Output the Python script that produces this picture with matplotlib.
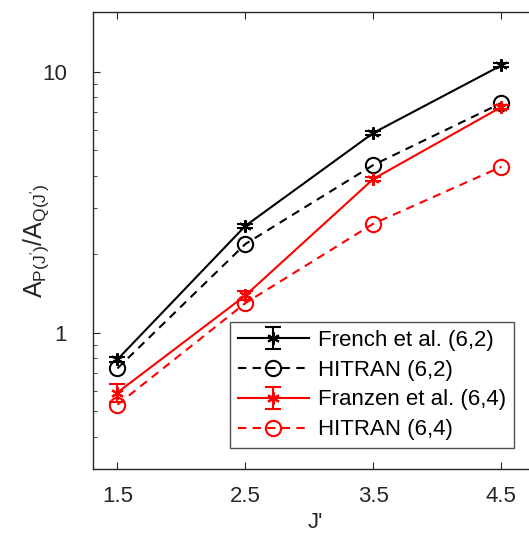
import matplotlib
matplotlib.use("Agg")
import matplotlib.pyplot as plt
from matplotlib.ticker import LogLocator, NullFormatter

plt.rcParams['font.family'] = ['Liberation Sans', 'DejaVu Sans']
plt.rcParams['mathtext.default'] = 'regular'

# Данные
j_vals = [1.5, 2.5, 3.5, 4.5]
french_62 = [0.79, 2.57, 5.84, 10.6]
french_62_err = [0.02, 0.05, 0.12, 0.2]
hitran_62 = [0.73, 2.19, 4.40, 7.6]
franzen_64 = [0.59, 1.39, 3.89, 7.34]
franzen_64_err = [0.045, 0.05, 0.08, 0.15]
hitran_64 = [0.53, 1.30, 2.62, 4.33]

fig = plt.figure(figsize=(5.29, 5.38), dpi=100)
ax = fig.add_axes([0.176, 0.128, 0.8396, 0.850])

star = (6, 2, 0)
h1 = ax.errorbar(j_vals, french_62, yerr=french_62_err, color='black', lw=1.5,
                 marker=star, ms=9, mew=1.5, capsize=6, elinewidth=1.5, capthick=1.5,
                 label='French et al. (6,2)')
h2, = ax.plot(j_vals, hitran_62, color='black', lw=1.5, ls=(0, (4, 3)),
              marker='o', ms=11, mfc='none', mew=1.5, label='HITRAN (6,2)')
h3 = ax.errorbar(j_vals, franzen_64, yerr=franzen_64_err, color='red', lw=1.5,
                 marker=star, ms=9, mew=1.5, capsize=6, elinewidth=1.5, capthick=1.5,
                 label='Franzen et al. (6,4)')
h4, = ax.plot(j_vals, hitran_64, color='red', lw=1.5, ls=(0, (4, 3)),
              marker='o', ms=11, mfc='none', mew=1.5, label='HITRAN (6,4)')

ax.set_yscale('log')
ax.set_xlim(1.31, 4.78)
ax.set_ylim(0.3, 17)
ax.set_xticks(j_vals)
ax.set_xticklabels(['1.5', '2.5', '3.5', '4.5'])
ax.set_yticks([1, 10])
ax.set_yticklabels(['1', '10'])
ax.yaxis.set_minor_locator(LogLocator(base=10, subs=range(2, 10)))
ax.yaxis.set_minor_formatter(NullFormatter())
ax.tick_params(which='both', direction='in', top=True, right=True,
               labelsize=16, color='#262626', labelcolor='#262626')
ax.tick_params(axis='x', pad=12)
ax.tick_params(axis='y', pad=19)
ax.tick_params(which='major', length=5)
ax.tick_params(which='minor', length=3)
for s in ax.spines.values():
    s.set_color('#262626')
    s.set_linewidth(1)

ax.set_xlabel("J'", fontsize=16, color='#262626', labelpad=4)
ax.set_ylabel("A$_{P(J')}$/A$_{Q(J')}$", fontsize=18, color='#262626')
ax.yaxis.set_label_coords(-0.095, 0.5)

leg = ax.legend(handles=[h1, h2, h3, h4], loc='lower right',
                bbox_to_anchor=(0.947, 0.046),
                fontsize=16, frameon=True, fancybox=False, borderpad=0.35,
                handlelength=3.2, handletextpad=0.4, labelspacing=0.4,
                borderaxespad=0)
leg.get_frame().set_edgecolor('#262626')
leg.get_frame().set_linewidth(1)

plt.savefig('out.png', dpi=100)
